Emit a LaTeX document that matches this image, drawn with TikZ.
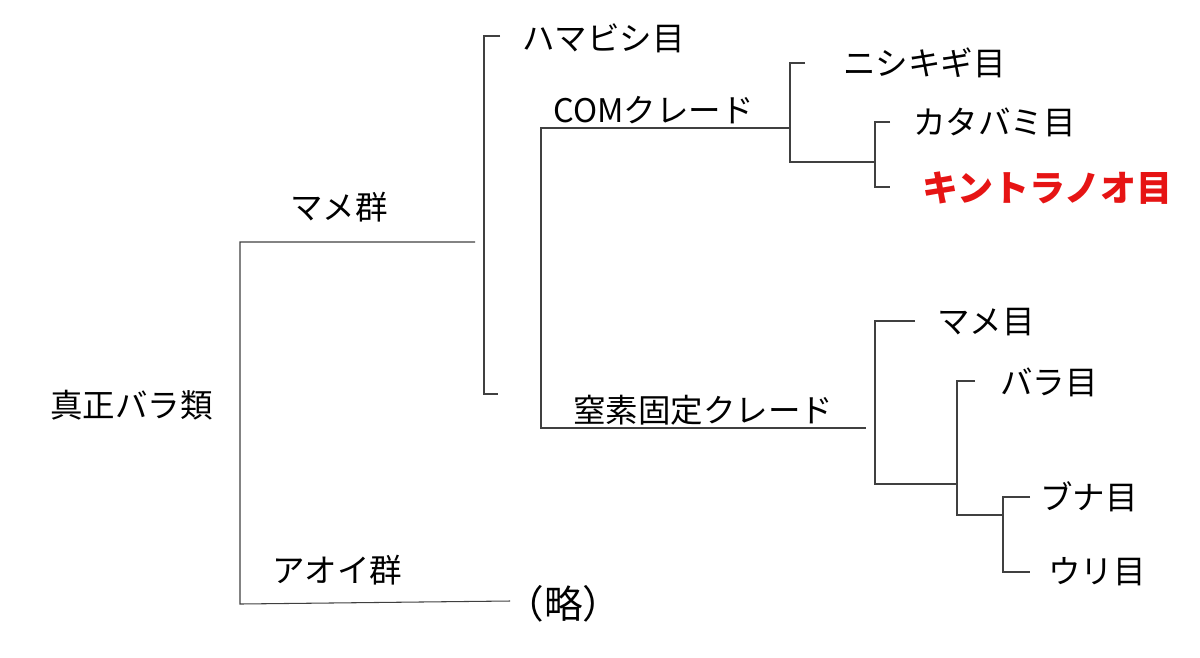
\documentclass[tikz,border=0pt]{standalone}
\usepackage{fontspec}
\newfontfamily\jp{Noto Sans CJK JP}
\begin{document}
\begin{tikzpicture}[x=0.02cm,y=-0.02cm,
  ln/.style={line width=0.6pt,black!75},
  lb/.style={anchor=west,inner sep=0pt,font=\jp\fontsize{18.5}{18.5}\selectfont},
  rd/.style={lb,font=\jp\bfseries\fontsize{20.5}{20.5}\selectfont,text={rgb,255:red,230;green,20;blue,20}}]
\useasboundingbox (0,0) rectangle (1200,657);
\draw[ln] (475,242) -- (240,242) -- (240,604) -- (510,601);
\draw[ln] (500,36) -- (484,36) -- (484,394) -- (498,394);
\draw[ln] (790,128) -- (541,128) -- (541,428) -- (866,428);
\draw[ln] (805,63) -- (790,63) -- (790,162) -- (875,162);
\draw[ln] (890,122) -- (875,122) -- (875,187) -- (890,187);
\draw[ln] (915,321) -- (875,321) -- (875,484) -- (957,484);
\draw[ln] (975,381) -- (957,381) -- (957,515) -- (1003,515);
\draw[ln] (1030,497) -- (1003,497) -- (1003,572) -- (1030,572);
\node[lb] (a) at (522,38) {ハマビシ目};
\node[lb] (b) at (553,110) {COMクレード};
\node[lb] (c) at (843,63) {ニシキギ目};
\node[lb] (d) at (913,122) {カタバミ目};
\node[rd] (e) at (922,188) {キントラノオ目};
\node[lb] (f) at (290,207) {マメ群};
\node[lb] (g) at (50,405) {真正バラ類};
\node[lb] (h) at (937,322) {マメ目};
\node[lb] (i) at (1000,382) {バラ目};
\node[lb] (j) at (573,410) {窒素固定クレード};
\node[lb] (k) at (1040,497) {ブナ目};
\node[lb] (l) at (1048,572) {ウリ目};
\node[lb] (m) at (272,570) {アオイ群};
\node[lb,font=\jp\fontsize{22}{22}\selectfont] (n) at (505,604) {（略）};
\end{tikzpicture}
\end{document}
